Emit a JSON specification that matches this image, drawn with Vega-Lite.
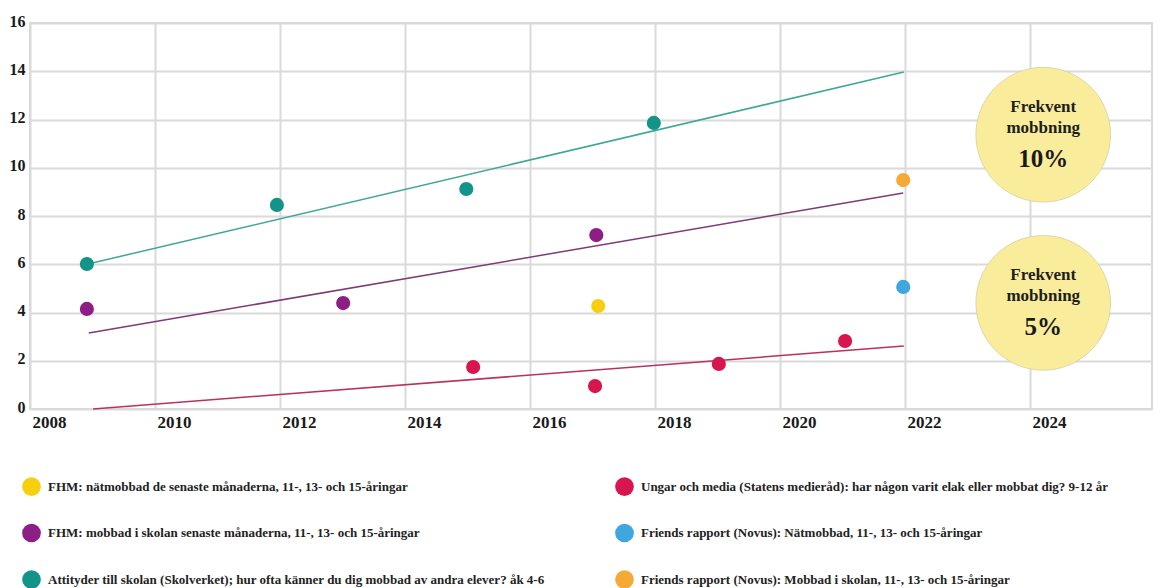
{
  "$schema": "https://vega.github.io/schema/vega-lite/v6.json",
  "width": 1122,
  "height": 386,
  "autosize": {"type": "none"},
  "padding": {"left": 30, "top": 23, "right": 5, "bottom": 179},
  "background": "#ffffff",
  "config": {
    "view": {"stroke": "#d9d9d9", "strokeWidth": 2},
    "font": "Liberation Serif",
    "axis": {
      "domain": false, "ticks": false, "grid": true,
      "gridColor": "#dadada", "gridWidth": 2,
      "labelFont": "Liberation Serif", "labelFontWeight": "bold",
      "labelFontSize": 15, "labelColor": "#1a1a1a", "title": null
    }
  },
  "datasets": {
    "points": [
      {"serie": "Attityder till skolan (Skolverket); hur ofta känner du dig mobbad av andra elever? åk 4-6", "year": 2008.91, "value": 6.01},
      {"serie": "Attityder till skolan (Skolverket); hur ofta känner du dig mobbad av andra elever? åk 4-6", "year": 2011.95, "value": 8.46},
      {"serie": "Attityder till skolan (Skolverket); hur ofta känner du dig mobbad av andra elever? åk 4-6", "year": 2014.98, "value": 9.12},
      {"serie": "Attityder till skolan (Skolverket); hur ofta känner du dig mobbad av andra elever? åk 4-6", "year": 2017.98, "value": 11.86},
      {"serie": "FHM: mobbad i skolan senaste månaderna, 11-, 13- och 15-åringar", "year": 2008.91, "value": 4.15},
      {"serie": "FHM: mobbad i skolan senaste månaderna, 11-, 13- och 15-åringar", "year": 2013.01, "value": 4.39},
      {"serie": "FHM: mobbad i skolan senaste månaderna, 11-, 13- och 15-åringar", "year": 2017.06, "value": 7.21},
      {"serie": "FHM: nätmobbad de senaste månaderna, 11-, 13- och 15-åringar", "year": 2017.09, "value": 4.27},
      {"serie": "Ungar och media (Statens medieråd): har någon varit elak eller mobbat dig? 9-12 år", "year": 2015.09, "value": 1.74},
      {"serie": "Ungar och media (Statens medieråd): har någon varit elak eller mobbat dig? 9-12 år", "year": 2017.04, "value": 0.95},
      {"serie": "Ungar och media (Statens medieråd): har någon varit elak eller mobbat dig? 9-12 år", "year": 2019.02, "value": 1.87},
      {"serie": "Ungar och media (Statens medieråd): har någon varit elak eller mobbat dig? 9-12 år", "year": 2021.04, "value": 2.82},
      {"serie": "Friends rapport (Novus): Nätmobbad, 11-, 13- och 15-åringar", "year": 2021.97, "value": 5.06},
      {"serie": "Friends rapport (Novus): Mobbad i skolan, 11-, 13- och 15-åringar", "year": 2021.97, "value": 9.49}
    ],
    "trends": [
      {"trend": "Skolverket", "year": 2008.91, "value": 6.0},
      {"trend": "Skolverket", "year": 2021.98, "value": 13.97},
      {"trend": "FHM", "year": 2008.94, "value": 3.15},
      {"trend": "FHM", "year": 2021.97, "value": 8.95},
      {"trend": "Medierådet", "year": 2009.01, "value": 0.0},
      {"trend": "Medierådet", "year": 2021.98, "value": 2.61}
    ],
    "badges": [
      {"year": 2024.21, "value": 11.37, "line1": "Frekvent", "line2": "mobbning", "pct": "10%"},
      {"year": 2024.21, "value": 4.40, "line1": "Frekvent", "line2": "mobbning", "pct": "5%"}
    ]
  },
  "encoding": {
    "x": {
      "field": "year", "type": "quantitative",
      "scale": {"domain": [2008, 2025.95], "nice": false, "zero": false},
      "axis": {
        "values": [2008, 2010, 2012, 2014, 2016, 2018, 2020, 2022, 2024],
        "format": "d", "labelAlign": "left", "labelBaseline": "top",
        "labelFontSize": 17, "labelPadding": 5, "labelFlush": false, "labelOverlap": false, "labelOffset": 2
      }
    },
    "y": {
      "field": "value", "type": "quantitative",
      "scale": {"domain": [0, 16], "nice": false},
      "axis": {
        "values": [0, 2, 4, 6, 8, 10, 12, 14, 16],
        "labelAlign": "right", "labelBaseline": "middle", "labelFontSize": 16,
        "labelPadding": 5, "labelOffset": -2, "labelOverlap": false
      }
    }
  },
  "layer": [
    {
      "data": {"name": "trends"},
      "mark": {"type": "line", "strokeWidth": 1.5},
      "encoding": {
        "detail": {"field": "trend"},
        "stroke": {
          "field": "trend", "type": "nominal",
          "scale": {"domain": ["Skolverket", "FHM", "Medierådet"], "range": ["#3fa895", "#7d3b78", "#b8325a"]},
          "legend": null
        }
      }
    },
    {
      "data": {"name": "points"},
      "mark": {"type": "point", "filled": true, "size": 200, "opacity": 1, "strokeWidth": 0},
      "encoding": {
        "color": {
          "field": "serie", "type": "nominal",
          "scale": {
            "domain": [
              "FHM: nätmobbad de senaste månaderna, 11-, 13- och 15-åringar",
              "FHM: mobbad i skolan senaste månaderna, 11-, 13- och 15-åringar",
              "Attityder till skolan (Skolverket); hur ofta känner du dig mobbad av andra elever? åk 4-6",
              "Ungar och media (Statens medieråd): har någon varit elak eller mobbat dig? 9-12 år",
              "Friends rapport (Novus): Nätmobbad, 11-, 13- och 15-åringar",
              "Friends rapport (Novus): Mobbad i skolan, 11-, 13- och 15-åringar"
            ],
            "range": ["#f6cf0e", "#8d1e86", "#129488", "#d8154f", "#3fa6df", "#f4aa35"]
          },
          "legend": {
            "title": null, "orient": "none", "legendX": -8, "legendY": 454,
            "columns": 2, "columnPadding": 70, "rowPadding": 27.5,
            "symbolType": "circle", "symbolSize": 350, "symbolStrokeWidth": 0, "symbolOpacity": 1,
            "labelFont": "Liberation Serif", "labelFontWeight": "bold", "labelFontSize": 13,
            "labelColor": "#222222", "labelLimit": 800, "labelOffset": 7
          }
        }
      }
    },
    {
      "data": {"name": "badges"},
      "mark": {"type": "point", "filled": true, "size": 18150, "fill": "#f9ec9b", "stroke": "#d6cfa6", "strokeWidth": 0.8, "opacity": 1}
    },
    {
      "data": {"name": "badges"},
      "mark": {"type": "text", "font": "Liberation Serif", "fontWeight": "bold", "fontSize": 17, "color": "#1e1e1e", "dy": -28, "baseline": "middle"},
      "encoding": {"text": {"field": "line1"}}
    },
    {
      "data": {"name": "badges"},
      "mark": {"type": "text", "font": "Liberation Serif", "fontWeight": "bold", "fontSize": 17, "color": "#1e1e1e", "dy": -7, "baseline": "middle"},
      "encoding": {"text": {"field": "line2"}}
    },
    {
      "data": {"name": "badges"},
      "mark": {"type": "text", "font": "Liberation Serif", "fontWeight": "bold", "fontSize": 25, "color": "#1a1a1a", "dy": 24, "baseline": "middle"},
      "encoding": {"text": {"field": "pct"}}
    }
  ]
}
